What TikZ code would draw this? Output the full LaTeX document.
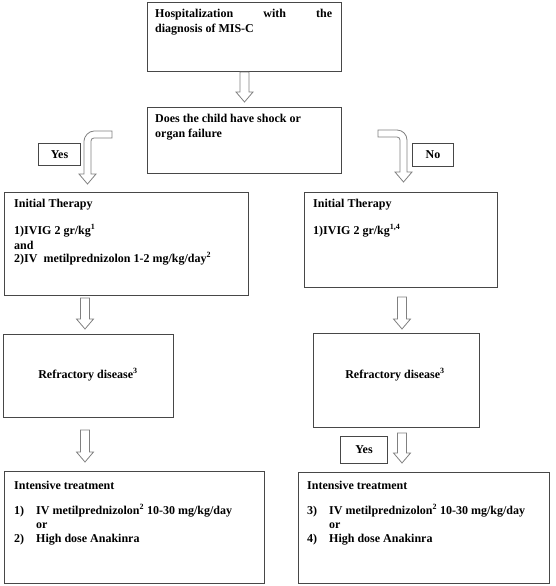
\documentclass[tikz,border=0pt]{standalone}
\usepackage{fontspec}
\setmainfont{Liberation Serif}
\begin{document}
\begin{tikzpicture}[x=1pt,y=-1pt,
  box/.style={draw=black!72, line width=1pt, inner sep=0pt, anchor=north west},
  arr/.style={draw=black!50, line width=0.8pt, fill=white, line join=miter},
  txt/.style={font=\fontsize{12}{14}\selectfont\bfseries, inner sep=0pt, anchor=base west, align=left},
  lbl/.style={font=\fontsize{12}{14}\selectfont\bfseries, inner sep=0pt}]
\useasboundingbox (0,0) rectangle (556,586);
\newcommand\mkbox[5]{\node[box, minimum width={#4pt-#2pt}, minimum height={#5pt-#3pt}] (#1) at (#2,#3) {};}
\newcommand\blkarrow[3]{\draw[arr] ({#1-4.5},#2) -- ({#1+4.5},#2) -- ({#1+4.5},{#3-10}) -- ({#1+8.5},{#3-10}) -- (#1,#3) -- ({#1-8.5},{#3-10}) -- ({#1-4.5},{#3-10}) -- cycle;}
% boxes
\mkbox{b1}{147}{2}{341}{71}
\mkbox{b2}{147}{107}{341}{173}
\mkbox{b3}{4}{192}{248}{295}
\mkbox{b4}{304}{192}{497}{287}
\mkbox{b5}{3}{334}{173}{417}
\mkbox{b6}{313}{333}{479}{427}
\mkbox{b7}{4}{471}{264}{583}
\mkbox{b8}{298}{472}{549}{583}
\mkbox{y1}{38}{143}{80}{165}
\mkbox{n1}{412}{143}{453}{166}
\mkbox{y2}{340}{436}{387}{463}
% labels
\node[lbl] (ty1) at (y1.center) {Yes};
\node[lbl] (tn1) at (n1.center) {No};
\node[lbl] (ty2) at (y2.center) {Yes};
% texts
\node[txt] (t1a) at (155,18) {\makebox[177pt][s]{Hospitalization with the}};
\node[txt] (t1b) at (155,33) {diagnosis of MIS-C};
\node[txt] (t2a) at (155,122) {Does the child have shock or};
\node[txt] (t2b) at (155,137) {organ failure};
\node[txt] (t3a) at (14,207) {Initial Therapy};
\node[txt] (t3b) at (14,234) {1)IVIG 2 gr/kg\textsuperscript{1}};
\node[txt] (t3c) at (14,249) {and};
\node[txt] (t3d) at (14,262) {2)IV\ \ metilprednizolon 1-2 mg/kg/day\textsuperscript{2}};
\node[txt] (t4a) at (313,207) {Initial Therapy};
\node[txt] (t4b) at (313,234) {1)IVIG 2 gr/kg\textsuperscript{1,4}};
\node[lbl, anchor=base] (t5) at (88,378) {Refractory disease\textsuperscript{3}};
\node[lbl, anchor=base] (t6) at (395,378) {Refractory disease\textsuperscript{3}};
\node[txt] (t7a) at (14,489) {Intensive treatment};
\node[txt] (t7b) at (14,514) {1)};
\node[txt] (t7c) at (36,514) {IV metilprednizolon\textsuperscript{2} 10-30 mg/kg/day};
\node[txt] (t7d) at (36,528) {or};
\node[txt] (t7e) at (14,542) {2)};
\node[txt] (t7f) at (36,542) {High dose Anakinra};
\node[txt] (t8a) at (307,489) {Intensive treatment};
\node[txt] (t8b) at (307,514) {3)};
\node[txt] (t8c) at (329,514) {IV metilprednizolon\textsuperscript{2} 10-30 mg/kg/day};
\node[txt] (t8d) at (329,528) {or};
\node[txt] (t8e) at (307,542) {4)};
\node[txt] (t8f) at (329,542) {High dose Anakinra};
% straight block arrows
\blkarrow{244.5}{72}{102}
\blkarrow{85}{298}{329}
\blkarrow{402}{297}{329}
\blkarrow{85}{430}{462}
\blkarrow{402}{433}{463}
% curved block arrows
\draw[arr] (112,131) -- (94,131) .. controls (88.5,131) and (84,136.5) .. (84,141) -- (84,174) -- (79,174) -- (87.5,184) -- (96,174) -- (91,174) -- (91,141) .. controls (91,139.3) and (92.3,138) .. (94,138) -- (112,138) -- cycle;
\draw[arr] (378,130) -- (397,130) .. controls (402.5,130) and (407,134.5) .. (407,140) -- (407,172) -- (412,172) -- (403.5,182) -- (395,172) -- (400,172) -- (400,140) .. controls (400,138.3) and (398.7,137) .. (397,137) -- (378,137) -- cycle;
\end{tikzpicture}
\end{document}
